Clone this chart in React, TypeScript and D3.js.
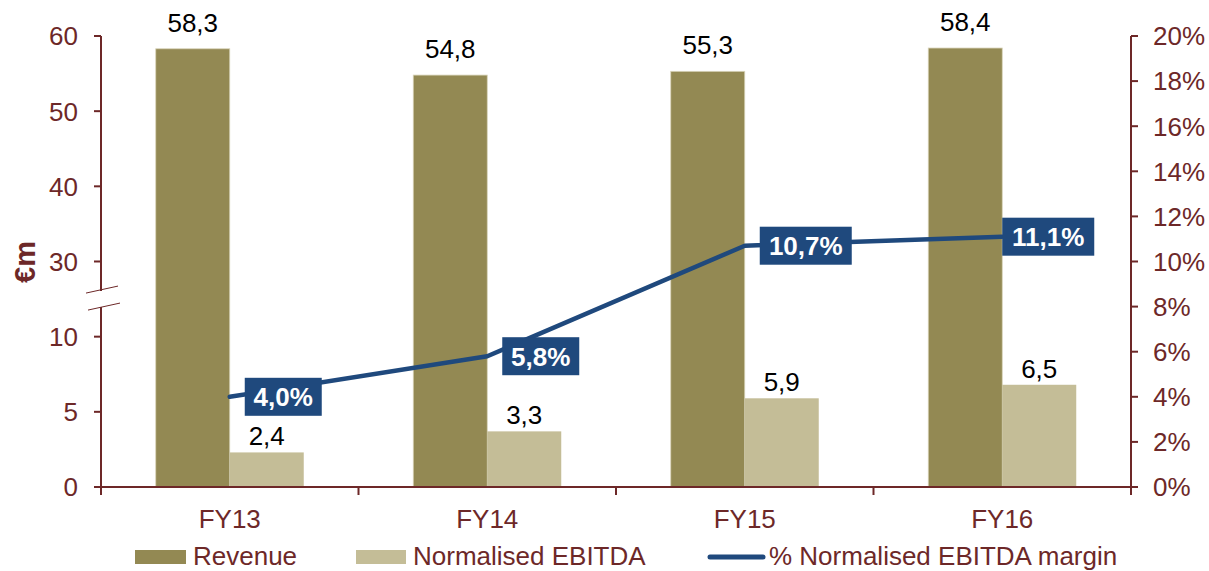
import React from "react";
import * as d3 from "d3";

const categories = ["FY13", "FY14", "FY15", "FY16"];
const revenue = [58.3, 54.8, 55.3, 58.4];
// bar heights as drawn in the picture (labels below are the printed values)
const ebitda = [2.3, 3.7, 5.9, 6.8];
const margin = [0.04, 0.058, 0.107, 0.111];
const revenueLabels = ["58,3", "54,8", "55,3", "58,4"];
const ebitdaLabels = ["2,4", "3,3", "5,9", "6,5"];
const marginLabels = ["4,0%", "5,8%", "10,7%", "11,1%"];
const leftTicks = [0, 5, 10, 30, 40, 50, 60];
const rightTicks = [0, 0.02, 0.04, 0.06, 0.08, 0.1, 0.12, 0.14, 0.16, 0.18, 0.2];
const seriesNames = ["Revenue", "Normalised EBITDA"];

const W = 1209;
const H = 571;
const X0 = 101;
const X1 = 1131;
const Y0 = 487;
const YT = 36;

const AXIS = "#6D2828";
const TEXT = "#6D2828";
const C_REV = "#938953";
const C_EB = "#C4BD97";
const C_LINE = "#1F497D";
const FONT = "'Liberation Sans', Arial, sans-serif";

export default function App() {
  const x = d3.scaleBand<string>().domain(categories).range([X0, X1]).padding(0);
  const xs = d3
    .scaleBand<string>()
    .domain(seriesNames)
    .range([0, x.bandwidth()])
    .paddingInner(0)
    .paddingOuter(0.74);
  // broken left axis: 0-10 and 30-60 share the tick spacing
  const yL = d3.scaleLinear().domain([0, 10, 30, 60]).range([Y0, Y0 - 2 * 75.17, Y0 - 3 * 75.17, YT]);
  const yR = d3.scaleLinear().domain([0, 0.2]).range([Y0, YT]);

  const cx = (c: string) => (x(c) as number) + x.bandwidth() / 2;
  const lineGen = d3
    .line<number>()
    .x((_, i) => cx(categories[i]))
    .y((d) => yR(d));

  const breakY = (yL(10) + yL(30)) / 2;
  const boundaries = d3.range(categories.length + 1).map((i) => X0 + i * x.step());

  return (
    <svg width={W} height={H} style={{ position: "absolute", left: 0, top: 0, background: "#fff" }} fontFamily={FONT}>
      {/* bars */}
      {categories.map((c, i) => {
        const bx = x(c) as number;
        const rx = bx + (xs("Revenue") as number);
        const ex = bx + (xs("Normalised EBITDA") as number);
        const bw = xs.bandwidth();
        return (
          <g key={c}>
            <rect x={rx} y={yL(revenue[i])} width={bw} height={Y0 - yL(revenue[i])} fill={C_REV} stroke="#D8D3B8" strokeWidth={0.8} />
            <rect x={ex} y={yL(ebitda[i])} width={bw} height={Y0 - yL(ebitda[i])} fill={C_EB} />
            <text x={rx + bw / 2} y={yL(revenue[i]) - 17} textAnchor="middle" fontSize={26} fill="#000">
              {revenueLabels[i]}
            </text>
            <text x={ex + bw / 2} y={yL(ebitda[i]) - 7} textAnchor="middle" fontSize={26} fill="#000">
              {ebitdaLabels[i]}
            </text>
          </g>
        );
      })}

      {/* left axis */}
      <line x1={X0} x2={X0} y1={YT} y2={breakY - 8} stroke={AXIS} strokeWidth={2} />
      <line x1={X0} x2={X0} y1={breakY + 8} y2={Y0} stroke={AXIS} strokeWidth={2} />
      <line x1={86} x2={118} y1={breakY - 6} y2={breakY - 13} stroke={AXIS} strokeWidth={1} />
      <line x1={88} x2={120} y1={breakY + 11} y2={breakY + 4} stroke={AXIS} strokeWidth={1} />
      {leftTicks.map((t) => (
        <g key={"l" + t}>
          <line x1={X0 - 7} x2={X0} y1={yL(t)} y2={yL(t)} stroke={AXIS} strokeWidth={2} />
          <text x={78} y={yL(t)} dy="0.36em" textAnchor="end" fontSize={26} fill={TEXT}>
            {t}
          </text>
        </g>
      ))}
      <text
        transform={`translate(35,262) rotate(-90)`}
        textAnchor="middle"
        fontSize={29}
        fontWeight="bold"
        fill={TEXT}
      >
        €m
      </text>

      {/* right axis */}
      <line x1={X1} x2={X1} y1={YT} y2={Y0} stroke={AXIS} strokeWidth={2} />
      {rightTicks.map((t) => (
        <g key={"r" + t}>
          <line x1={X1} x2={X1 + 7} y1={yR(t)} y2={yR(t)} stroke={AXIS} strokeWidth={2} />
          <text x={1153} y={yR(t)} dy="0.36em" textAnchor="start" fontSize={26} fill={TEXT}>
            {Math.round(t * 100) + "%"}
          </text>
        </g>
      ))}

      {/* bottom axis */}
      <line x1={X0 - 6} x2={X1} y1={Y0} y2={Y0} stroke={AXIS} strokeWidth={2} />
      {boundaries.map((b, i) => (
        <line key={"b" + i} x1={b} x2={b} y1={Y0} y2={Y0 + 8} stroke={AXIS} strokeWidth={2} />
      ))}
      {categories.map((c) => (
        <text key={"c" + c} x={cx(c)} y={528} textAnchor="middle" fontSize={26} fill={TEXT}>
          {c}
        </text>
      ))}

      {/* margin line */}
      <path d={lineGen(margin) || ""} fill="none" stroke={C_LINE} strokeWidth={4.5} strokeLinejoin="round" strokeLinecap="round" />
      {categories.map((c, i) => {
        const px = cx(c);
        const py = yR(margin[i]);
        const tw = marginLabels[i].length > 4 ? 92 : 77;
        const left = i === categories.length - 1 ? px : px + 15;
        return (
          <g key={"m" + c}>
            <rect x={left} y={py - 19} width={tw} height={38} fill={C_LINE} />
            <text x={left + tw / 2} y={py} dy="0.36em" textAnchor="middle" fontSize={26} fontWeight="bold" fill="#fff">
              {marginLabels[i]}
            </text>
          </g>
        );
      })}

      {/* legend */}
      <rect x={135} y={550} width={51} height={14} fill={C_REV} />
      <text x={193} y={565} fontSize={26} fill={TEXT}>Revenue</text>
      <rect x={356} y={550} width={50} height={14} fill={C_EB} />
      <text x={413} y={565} fontSize={26} fill={TEXT}>Normalised EBITDA</text>
      <line x1={710} x2={763} y1={557} y2={557} stroke={C_LINE} strokeWidth={5} strokeLinecap="round" />
      <text x={769} y={565} fontSize={26} fill={TEXT}>% Normalised EBITDA margin</text>
    </svg>
  );
}
